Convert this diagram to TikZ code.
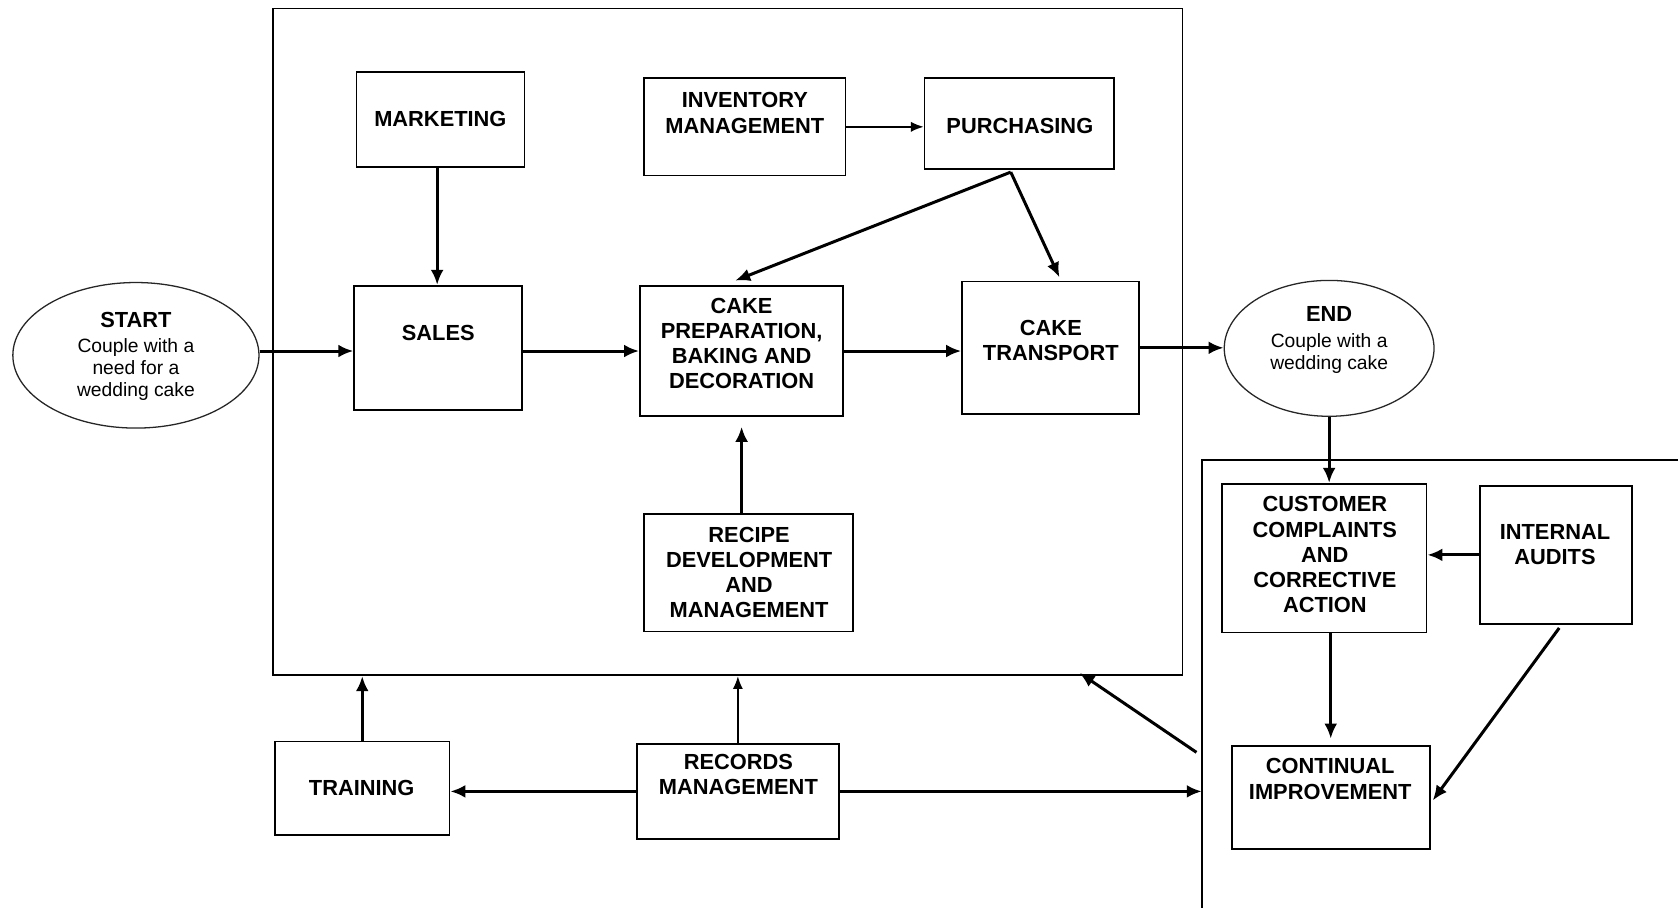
\documentclass[tikz,border=0pt]{standalone}
\usepackage{fontspec}
\setmainfont{Liberation Sans}
\usetikzlibrary{arrows.meta,calc,shapes.geometric}
\begin{document}
\begin{tikzpicture}[x=0.5pt,y=-0.5pt,
  box/.style={draw=black,line width=0.8pt,rectangle,inner sep=0pt},
  frame/.style={draw=black,line width=0.8pt},
  bt/.style={font=\fontsize{10.2}{11.8}\selectfont\bfseries,align=center,inner sep=0pt},
  oval/.style={draw=black!85,line width=0.6pt,ellipse,inner sep=0pt},
  st/.style={font=\fontsize{9}{10.4}\selectfont,align=center,inner sep=0pt},
  arr/.style={line width=1.4pt,-{Latex[length=7pt,width=6pt]}},
  tarr/.style={line width=0.9pt,-{Latex[length=6pt,width=4.8pt]}}]
\useasboundingbox (0,0) rectangle (1568,848);
\fill[white] (0,0) rectangle (1568,848);

% frames
\node[box,minimum width=425pt,minimum height=311.5pt] (big) at (680,319.5) {};
\coordinate (rbox) at (1123,430);
\draw[frame] (1600,430) -- (rbox) -- (1123,880);

% ovals
\node[oval,minimum width=115pt,minimum height=68pt] (start) at (127,332) {};
\node[st] (startT) at (127,333) {{\fontsize{10.2}{11.8}\selectfont\bfseries START}\\[1.5pt]Couple with a\\need for a\\wedding cake};
\node[oval,minimum width=98pt,minimum height=63.5pt] (finish) at (1242,325.5) {};
\node[st] (finishT) at (1242,318) {{\fontsize{10.2}{11.8}\selectfont\bfseries END}\\[1.5pt]Couple with a\\wedding cake};

% boxes
\node[box,minimum width=78.5pt,minimum height=44.5pt] (marketing) at (411.5,111.5) {};
\node[bt] (marketingT) at (411.5,111) {MARKETING};
\node[box,minimum width=94pt,minimum height=45.5pt] (inventory) at (696,118.5) {};
\node[bt] (inventoryT) at (696,105.5) {INVENTORY\\MANAGEMENT};
\node[box,minimum width=88.5pt,minimum height=42.5pt] (purchasing) at (952.5,115.5) {};
\node[bt] (purchasingT) at (953,118) {PURCHASING};
\node[box,minimum width=78.5pt,minimum height=58pt] (sales) at (409.5,325) {};
\node[bt] (salesT) at (409.5,311) {SALES};
\node[box,minimum width=95pt,minimum height=61pt] (prep) at (693,328) {};
\node[bt] (prepT) at (693,321) {CAKE\\PREPARATION,\\BAKING AND\\DECORATION};
\node[box,minimum width=82.5pt,minimum height=62pt] (transport) at (981.5,325) {};
\node[bt] (transportT) at (982,318.5) {CAKE\\TRANSPORT};
\node[box,minimum width=97.5pt,minimum height=55pt] (recipe) at (699.5,535) {};
\node[bt] (recipeT) at (700,535) {RECIPE\\DEVELOPMENT\\AND\\MANAGEMENT};
\node[box,minimum width=95.5pt,minimum height=69.5pt] (customer) at (1237.5,521.5) {};
\node[bt] (customerT) at (1238,518.5) {CUSTOMER\\COMPLAINTS\\AND\\CORRECTIVE\\ACTION};
\node[box,minimum width=71pt,minimum height=64.5pt] (internal) at (1454,518.5) {};
\node[bt] (internalT) at (1453,509) {INTERNAL\\AUDITS};
\node[box,minimum width=92.5pt,minimum height=48pt] (continual) at (1243.5,745) {};
\node[bt] (continualT) at (1243,728) {CONTINUAL\\IMPROVEMENT};
\node[box,minimum width=81.5pt,minimum height=43.5pt] (training) at (338.5,736.5) {};
\node[bt] (trainingT) at (338,736) {TRAINING};
\node[box,minimum width=94.5pt,minimum height=44.5pt] (records) at (689.5,739.5) {};
\node[bt] (recordsT) at (690,724) {RECORDS\\MANAGEMENT};

\coordinate (fb) at (1118,703);

% connectors
\draw[arr] ($(start.east)+(0,-4)$) -- ($(start.east -| sales.west)+(0,-4)$);
\draw[arr] ($(marketing.south)+(-3,0)$) -- ($(marketing.south |- sales.north)+(-3,0)$);
\draw[arr] ($(sales.east)+(0,3)$) -- ($(sales.east -| prep.west)+(0,3)$);
\draw[arr] (prep.east) -- (prep.east -| transport.west);
\draw[arr] (transport.east) -- (transport.east -| finish.west);
\draw[tarr] (inventory.east) -- (inventory.east -| purchasing.west);
\draw[arr] ($(purchasing.south)+(-8,2)$) -- ($(prep.north)+(-6,-4)$);
\draw[arr] ($(purchasing.south)+(-8,2)$) -- ($(transport.north)+(8.5,-3)$);
\draw[arr] (recipe.north -| prep.south) -- ($(prep.south)+(0,9)$);
\draw[arr] (finish.south) -- (finish.south |- customer.north);
\draw[arr] (internal.west) -- (internal.west -| customer.east);
\draw[arr] (customer.south -| continual.north) -- ($(continual.north)+(0,-6)$);
\draw[arr] ($(internal.south)+(3,3)$) -- ($(continual.east)+(2,3)$);
\draw[arr] (training.north) -- (training.north |- big.south);
\draw[tarr] (records.north) -- (records.north |- big.south);
\draw[arr] (records.west) -- (records.west -| training.east);
\draw[arr] (records.east) -- (records.east -| rbox);
\draw[arr] (fb) -- ($(big.south east)+(-97,-3)$);
\end{tikzpicture}
\end{document}
